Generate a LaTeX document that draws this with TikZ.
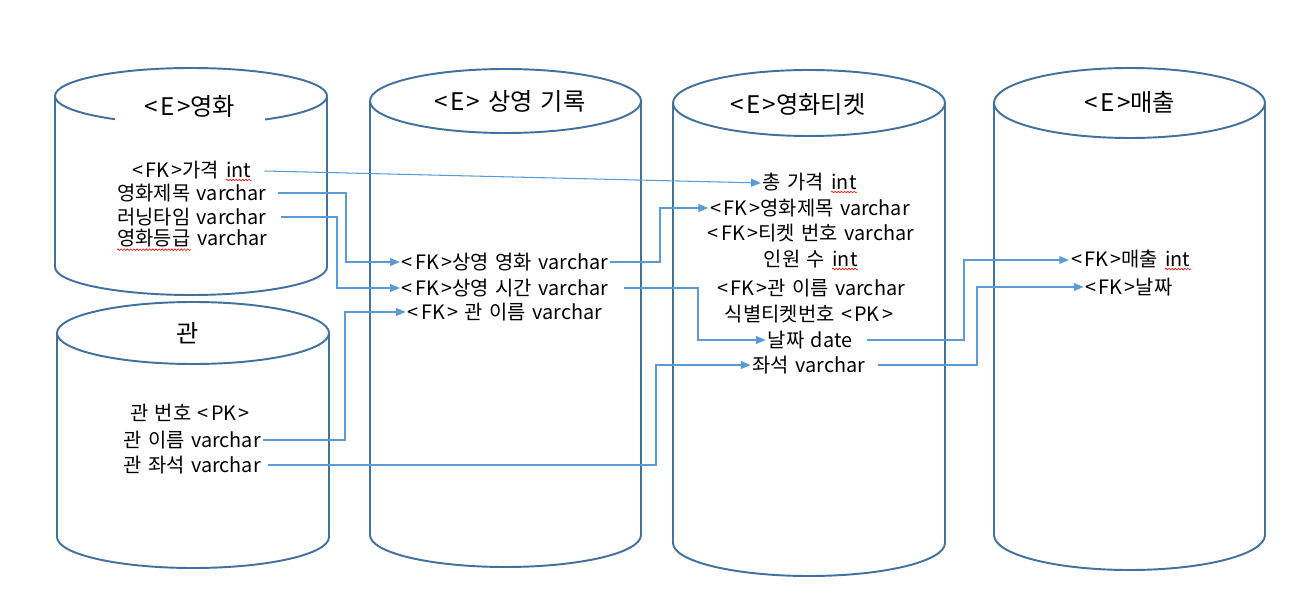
\documentclass[tikz,border=0pt]{standalone}
\usepackage{fontspec}
\setmainfont{Noto Sans CJK KR}
\usetikzlibrary{arrows.meta,decorations.pathmorphing}
\definecolor{CylBlue}{HTML}{41719C}
\definecolor{LinkBlue}{HTML}{5B9BD5}

% spell-check squiggle under a word
\newcommand{\spell}[1]{\tikz[baseline=(w.base)]{\node[inner sep=0pt] (w) {#1};
  \draw[red, line width=0.35pt, decorate, decoration={snake, amplitude=0.45pt, segment length=1.8pt}]
    ([yshift=-1.2pt]w.south west) -- ([yshift=-1.2pt]w.south east);}}
% key tags with wide brackets
\newcommand{\keytag}[1]{<\kern1.3pt#1\kern1.3pt>}
% cylinder: left, right, top y, bottom y, y radius
\newcommand{\dbcyl}[5]{%
  \draw[cyl] (#1,#3) -- (#1,#4) arc[start angle=180, end angle=0, x radius={(#2-#1)/2}, y radius=#5] -- (#2,#3);
  \draw[cyl] ({(#1+#2)/2},#3) ellipse [x radius={(#2-#1)/2}, y radius=#5];
}

\begin{document}
\begin{tikzpicture}[x=0.02cm, y=-0.02cm,
  cyl/.style={CylBlue, line width=1.1pt},
  link/.style={LinkBlue, line width=0.6pt, -{Triangle[length=5.5pt, width=4.5pt]}},
  fld/.style={inner sep=1pt, font=\fontsize{11.3}{13}\selectfont},
  ttl/.style={inner sep=1pt, font=\fontsize{13.8}{16}\selectfont},
  every node/.append style={execute at begin node={\spaceskip=0.33em\relax}}]
  \fill[white] (0,0) rectangle (1293,604);
  \useasboundingbox (0,0) rectangle (1293,604);

  \dbcyl{55}{327}{96}{267}{28}
  \dbcyl{57}{329}{333}{537}{31}
  \dbcyl{370}{641}{101}{535}{32}
  \dbcyl{673}{945}{103}{543}{33}
  \dbcyl{994}{1265}{103}{535}{35}

  % <E>영화
  \node[ttl, fill=white, minimum width=3cm, minimum height=0.86cm] (mTitle) at (190,106) {\keytag{E}영화};
  \node[fld] (mPrice) at (192,171) {\keytag{FK}가격 \spell{int}};
  \node[fld] (mName)  at (192,193) {영화제목 varchar};
  \node[fld] (mTime)  at (192,217) {러닝타임 varchar};
  \node[fld] (mGrade) at (192,240) {\spell{영화등급} varchar};

  % 관
  \node[ttl] (hTitle) at (188,333) {관};
  \node[fld] (hNo)   at (190,413) {관 번호 \keytag{PK}};
  \node[fld] (hName) at (192,440) {관 이름 varchar};
  \node[fld] (hSeat) at (192,465) {관 좌석 varchar};

  % <E> 상영 기록
  \node[ttl] (sTitle) at (510,101) {\keytag{E} 상영 기록};
  \node[fld] (sMovie) at (505,262) {\keytag{FK}상영 영화 varchar};
  \node[fld] (sTime)  at (505,288) {\keytag{FK}상영 시간 varchar};
  \node[fld] (sHall)  at (505,312) {\keytag{FK} 관 이름 varchar};

  % <E>영화티켓
  \node[ttl] (tTitle) at (798,104) {\keytag{E}영화티켓};
  \node[fld] (tPrice) at (810,183) {총 가격 \spell{int}};
  \node[fld] (tMovie) at (810,208) {\keytag{FK}영화제목 varchar};
  \node[fld] (tNo)    at (811,233) {\keytag{FK}티켓 번호 varchar};
  \node[fld] (tCount) at (811,260) {인원 수 \spell{int}};
  \node[fld] (tHall)  at (811,288) {\keytag{FK}관 이름 varchar};
  \node[fld] (tId)    at (809,314) {식별티켓번호 \keytag{PK}};
  \node[fld] (tDate)  at (810,340) {날짜 date};
  \node[fld] (tSeat)  at (809,365) {좌석 varchar};

  % <E>매출
  \node[ttl] (rTitle)  at (1130,102) {\keytag{E}매출};
  \node[fld] (rAmount) at (1131,260) {\keytag{FK}매출 \spell{int}};
  \node[fld] (rDate)   at (1129,287) {\keytag{FK}날짜};

  % bend columns
  \coordinate (kB) at (346,0);
  \coordinate (kC) at (337,0);
  \coordinate (kD) at (345,0);
  \coordinate (kE) at (660,0);
  \coordinate (kF) at (698,0);
  \coordinate (kG) at (656,0);
  \coordinate (kH) at (964,0);
  \coordinate (kI) at (977,0);

  \draw[link] ([xshift=6pt]mPrice.east) -- (tPrice.west);
  \draw[link] ([xshift=5pt]mName.east) -- (mName.east -| kB) |- (sMovie.west);
  \draw[link] ([xshift=7pt]mTime.east) -- (mTime.east -| kC) |- (sTime.west);
  \draw[link] (hName.east) -- (hName.east -| kD) |- (sHall.west);
  \draw[link] (sMovie.east) -- (sMovie.east -| kE) |- (tMovie.west);
  \draw[link] ([xshift=8pt]sTime.east) -- (sTime.east -| kF) |- (tDate.west);
  \draw[link] ([xshift=3pt]hSeat.east) -- (hSeat.east -| kG) |- (tSeat.west);
  \draw[link] ([xshift=7pt]tDate.east) -- (tDate.east -| kH) |- (rAmount.west);
  \draw[link] ([xshift=6pt]tSeat.east) -- (tSeat.east -| kI) |- (rDate.west);
\end{tikzpicture}
\end{document}
